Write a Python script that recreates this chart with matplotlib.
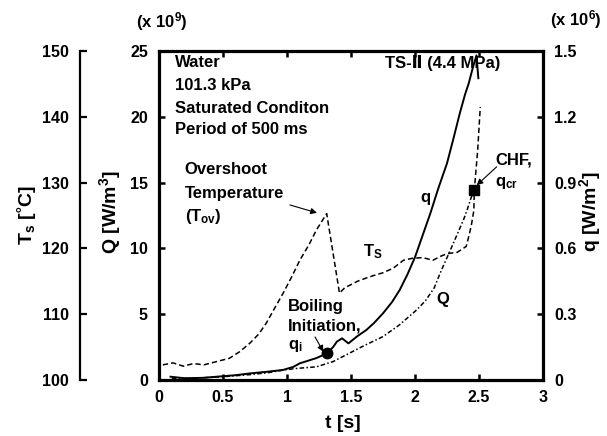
import matplotlib
matplotlib.use("Agg")
import matplotlib.pyplot as plt

plt.rcParams["font.family"] = ["Liberation Sans", "DejaVu Sans"]
plt.rcParams["font.weight"] = "bold"
plt.rcParams["mathtext.fontset"] = "custom"
plt.rcParams["mathtext.rm"] = "Liberation Sans:bold"
plt.rcParams["mathtext.it"] = "Liberation Sans:bold"
plt.rcParams["mathtext.bf"] = "Liberation Sans:bold"

# --- data ---
t_T = [0.03, 0.11, 0.19, 0.27, 0.35, 0.45, 0.55, 0.63, 0.71, 0.78, 0.84, 0.90, 0.97, 1.04,
       1.10, 1.17, 1.23, 1.31, 1.41, 1.45, 1.49, 1.55, 1.62, 1.68, 1.75, 1.83, 1.91, 1.98,
       2.06, 2.14, 2.20, 2.25, 2.33, 2.40, 2.42, 2.44, 2.46, 2.463, 2.49, 2.51]
T_s = [102.3, 102.6, 102.1, 102.5, 102.3, 102.8, 103.3, 104.3, 105.6, 107.0, 108.7, 110.8, 113.2, 115.8,
       118.2, 120.5, 122.8, 125.3, 113.2, 114.0, 114.4, 115.0, 115.5, 115.9, 116.3, 117.0, 118.2, 118.5,
       118.6, 118.2, 118.8, 119.2, 119.4, 120.3, 121.8, 123.5, 125.8, 128.8, 135.0, 141.5]

t_Q = [0.1, 0.3, 0.5, 0.7, 0.85, 1.0, 1.1, 1.23, 1.36, 1.49, 1.6, 1.75, 1.88,
       2.01, 2.08, 2.15, 2.2, 2.25, 2.3, 2.34, 2.38, 2.41, 2.44, 2.463]
Q = [0.1, 0.15, 0.25, 0.4, 0.55, 0.8, 0.9, 1.0, 1.4, 2.05, 2.6, 3.3, 4.2,
     5.3, 6.0, 7.0, 8.2, 9.3, 10.4, 11.3, 12.2, 13.0, 13.9, 14.4]

t_q = [0.09, 0.2, 0.35, 0.45, 0.6, 0.71, 0.85, 0.97, 1.05, 1.10, 1.23, 1.315, 1.36,
       1.39, 1.43, 1.48, 1.55, 1.62, 1.68, 1.75, 1.82, 1.88, 1.94, 2.0, 2.06, 2.12,
       2.18, 2.25, 2.30, 2.35, 2.39, 2.42, 2.45, 2.48, 2.495]
q = [0.015, 0.008, 0.01, 0.015, 0.022, 0.03, 0.038, 0.046, 0.06, 0.076, 0.10, 0.122, 0.15,
     0.175, 0.19, 0.167, 0.2, 0.228, 0.26, 0.304, 0.355, 0.41, 0.48, 0.56, 0.66, 0.76,
     0.87, 0.988, 1.10, 1.216, 1.30, 1.353, 1.42, 1.48, 1.376]

boil_pt = (1.315, 0.122)
chf_pt = (2.463, 0.866)

t_ticks = [0, 0.5, 1, 1.5, 2, 2.5, 3]
t_labels = ["0", "0.5", "1", "1.5", "2", "2.5", "3"]
Q_ticks = [0, 5, 10, 15, 20, 25]
q_ticks = [0, 0.3, 0.6, 0.9, 1.2, 1.5]
q_labels = ["0", "0.3", "0.6", "0.9", "1.2", "1.5"]
T_ticks = [100, 110, 120, 130, 140, 150]

W, H = 607, 436
fig = plt.figure(figsize=(W / 100, H / 100), dpi=100)
ax = fig.add_axes([159 / W, 1 - 380 / H, 384 / W, 329 / H])
ax_q = ax.twinx()
ax_T = ax.twinx()

# --- curves ---
ax.plot(t_Q, Q, color="black", lw=1.1, dashes=(3, 1.5, 1, 1.5))
ax_q.plot(t_q, q, color="black", lw=1.4)
ax_q.plot(*boil_pt, "o", color="black", ms=7.5)
ax_q.plot(*chf_pt, "s", color="black", ms=6.5)
ax_T.plot(t_T, T_s, color="black", lw=1.1, dashes=(3.5, 2))

# --- axes ---
ax.set_xlim(0, 3)
ax.set_ylim(0, 25)
ax_q.set_ylim(0, 1.5)
ax_T.set_ylim(100, 150)

ax.set_xticks(t_ticks)
ax.set_xticklabels(t_labels)
ax.set_yticks(Q_ticks)
ax_q.set_yticks(q_ticks)
ax_q.set_yticklabels(q_labels)
ax_T.set_yticks(T_ticks)

tick_fs = 11.5
for s in ax.spines.values():
    s.set_linewidth(2.3)
ax.tick_params(axis="both", direction="in", length=4.5, width=1.8, labelsize=tick_fs, top=True)
ax.tick_params(axis="x", pad=7)
ax.tick_params(axis="y", pad=8)

for s in ax_q.spines.values():
    s.set_visible(False)
ax_q.tick_params(axis="y", direction="in", length=4.5, width=1.8, labelsize=tick_fs, pad=8)

for k in ["right", "top", "bottom"]:
    ax_T.spines[k].set_visible(False)
ax_T.spines["left"].set_position(("axes", (80 - 159) / 384))
ax_T.spines["left"].set_linewidth(1.6)
ax_T.yaxis.set_ticks_position("left")
ax_T.yaxis.set_label_position("left")
ax_T.tick_params(axis="y", direction="in", length=5, width=1.6, labelsize=tick_fs, pad=8)

# --- axis labels ---
def px(x, y):
    return x / W, 1 - y / H

fig.text(*px(27, 215), "T$_\\mathregular{s}$ [\u02daC]", rotation=90, ha="center", va="center", fontsize=14)
fig.text(*px(110, 212), "Q [W/m$^\\mathregular{3}$]", rotation=90, ha="center", va="center", fontsize=14)
fig.text(*px(590, 212), "q [W/m$^\\mathregular{2}$]", rotation=90, ha="center", va="center", fontsize=14)
fig.text(*px(343, 423), "t [s]", ha="center", va="center", fontsize=14)
fig.text(*px(162, 22), "(x 10$^\\mathregular{9}$)", ha="center", va="center", fontsize=12)
fig.text(*px(576, 20), "(x 10$^\\mathregular{6}$)", ha="center", va="center", fontsize=12)

# --- annotations (main axes data coords: t, Q) ---
fs = 12
arrow = dict(arrowstyle="-|>", lw=0.8, color="black", mutation_scale=9, shrinkA=0, shrinkB=0)

ax.text(0.125, 24.1, "Water", fontsize=fs, va="center")
ax.text(0.125, 22.35, "101.3 kPa", fontsize=fs, va="center")
ax.text(0.125, 20.65, "Saturated Conditon", fontsize=fs, va="center")
ax.text(0.125, 19.0, "Period of 500 ms", fontsize=fs, va="center")
ax.text(1.766, 24.1, "TS-\u2161 (4.4 MPa)", fontsize=fs, va="center")

ax.text(0.2, 15.96, "Overshoot", fontsize=fs, va="center")
ax.text(0.2, 14.19, "Temperature", fontsize=fs, va="center")
ax.text(0.2, 12.41, "(T$_\\mathregular{ov}$)", fontsize=fs, va="center")
ax.annotate("", xy=(1.234, 12.7), xytext=(1.023, 13.3), arrowprops=arrow)

ax.text(1.594, 9.73, "T$_\\mathregular{S}$", fontsize=fs, va="center")
ax.text(2.04, 13.9, "q", fontsize=fs, va="center")
ax.text(2.17, 6.08, "Q", fontsize=fs, va="center")

ax.text(1.008, 5.62, "Boiling", fontsize=fs, va="center")
ax.text(1.008, 4.1, "Initiation,", fontsize=fs, va="center")
ax.text(1.008, 2.58, "q$_\\mathregular{i}$", fontsize=fs, va="center")
ax.annotate("", xy=(1.284, 2.15), xytext=(1.219, 3.27), arrowprops=arrow)

ax.text(2.625, 16.7, "CHF,", fontsize=fs, va="center")
ax.text(2.625, 15.0, "q$_\\mathregular{cr}$", fontsize=fs, va="center")
ax.annotate("", xy=(2.482, 14.8), xytext=(2.638, 16.2), arrowprops=arrow)

fig.savefig("out.png", dpi=100)
